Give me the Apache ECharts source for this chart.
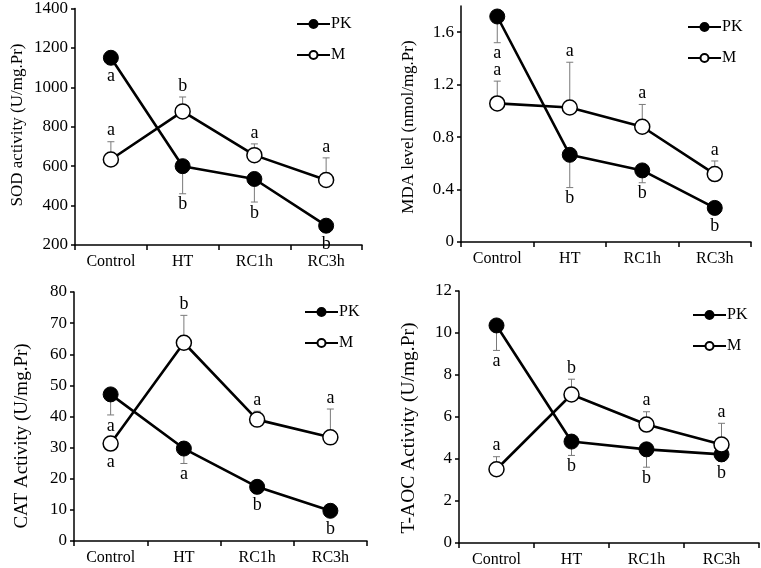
<!DOCTYPE html>
<html>
<head>
<meta charset="utf-8">
<script src="https://cdn.jsdelivr.net/npm/echarts@6/dist/echarts.min.js"></script>
<style>html,body{margin:0;padding:0;background:#fff}#c{width:761px;height:568px}</style>
</head>
<body>
<div id="c"></div>
<script>
// ---- data ----
const categories = ['Control', 'HT', 'RC1h', 'RC3h'];

const sodPK = [1150, 600, 535, 298];
const sodPKErr = [0, 140, 117, 0];
const sodM = [634, 878, 656, 530];
const sodMErr = [90, 73, 57, 112];
const sodPKLetters = ['a', 'b', 'b', 'b'];
const sodMLetters = ['a', 'b', 'a', 'a'];

const mdaPK = [1.72, 0.665, 0.546, 0.26];
const mdaPKErr = [0.2, 0.25, 0.094, 0];
const mdaM = [1.057, 1.026, 0.879, 0.518];
const mdaMErr = [0.17, 0.345, 0.17, 0.10];
const mdaPKLetters = ['a', 'b', 'b', 'b'];
const mdaMLetters = ['a', 'a', 'a', 'a'];

const catPK = [47.1, 29.7, 17.4, 9.7];
const catPKErr = [6.6, 4.8, 0, 0];
const catM = [31.3, 63.7, 39.0, 33.3];
const catMErr = [0, 8.8, 2.7, 9.1];
const catPKLetters = ['a', 'a', 'b', 'b'];
const catMLetters = ['a', 'b', 'a', 'a'];

const taocPK = [10.36, 4.83, 4.46, 4.22];
const taocPKErr = [1.19, 0.66, 0.85, 0.33];
const taocM = [3.51, 7.07, 5.64, 4.69];
const taocMErr = [0.6, 0.73, 0.61, 1.01];
const taocPKLetters = ['a', 'b', 'b', 'b'];
const taocMLetters = ['a', 'b', 'a', 'a'];

const yTicksSOD = [200, 400, 600, 800, 1000, 1200, 1400];
const yTicksMDA = [0, 0.4, 0.8, 1.2, 1.6];
const yTicksCAT = [0, 10, 20, 30, 40, 50, 60, 70, 80];
const yTicksTAOC = [0, 2, 4, 6, 8, 10, 12];

// ---- layout / style ----
const FONT = 'Liberation Serif';
const panels = [
  { grid: { left: 75, top: 6, width: 287, height: 239 }, min: 200, max: 1400, interval: 200, ticks: yTicksSOD,
    title: 'SOD activity (U/mg.Pr)', tx: 18, ty: 125, tfs: 17, legend: { left: 296, top: 16 },
    pk: sodPK, pkErr: sodPKErr, pkLet: sodPKLetters, m: sodM, mErr: sodMErr, mLet: sodMLetters,
    mSide: ['up', 'up', 'up', 'up'] },
  { grid: { left: 461, top: 6, width: 290, height: 236 }, min: 0, max: 1.8, interval: 0.4, ticks: yTicksMDA,
    title: 'MDA level (nmol/mg.Pr)', tx: 409, ty: 127, tfs: 17, legend: { left: 687, top: 19 },
    pk: mdaPK, pkErr: mdaPKErr, pkLet: mdaPKLetters, m: mdaM, mErr: mdaMErr, mLet: mdaMLetters,
    mSide: ['up', 'up', 'up', 'up'] },
  { grid: { left: 74, top: 292, width: 293, height: 249 }, min: 0, max: 80, interval: 10, ticks: yTicksCAT,
    title: 'CAT Activity (U/mg.Pr)', tx: 22, ty: 436, tfs: 19, legend: { left: 304, top: 304 },
    pk: catPK, pkErr: catPKErr, pkLet: catPKLetters, m: catM, mErr: catMErr, mLet: catMLetters,
    mSide: ['down', 'up', 'up', 'up'] },
  { grid: { left: 459, top: 291, width: 300, height: 254 }, min: 0, max: 12, interval: 2, ticks: yTicksTAOC,
    title: 'T-AOC Activity (U/mg.Pr)', tx: 409, ty: 428, tfs: 19.5, legend: { left: 692, top: 307 },
    pk: taocPK, pkErr: taocPKErr, pkLet: taocPKLetters, m: taocM, mErr: taocMErr, mLet: taocMLetters,
    mSide: ['up', 'up', 'up', 'up'] }
];

const R = 7.5;
const ERR_COLOR = '#7a7a7a';

function errRender(errArr, dir) {
  return function (params, api) {
    const e = errArr[params.dataIndex];
    if (!e) return null;
    const i = api.value(0), v = api.value(1);
    const p0 = api.coord([i, v]);
    const p1 = api.coord([i, v + dir * e]);
    return {
      type: 'group',
      children: [
        { type: 'line', shape: { x1: p0[0], y1: p0[1], x2: p1[0], y2: p1[1] }, style: { stroke: ERR_COLOR, lineWidth: 1 } },
        { type: 'line', shape: { x1: p1[0] - 3.5, y1: p1[1], x2: p1[0] + 3.5, y2: p1[1] }, style: { stroke: ERR_COLOR, lineWidth: 1 } }
      ]
    };
  };
}

function letterRender(letters, errArr, sides, errDir) {
  return function (params, api) {
    const idx = params.dataIndex;
    const i = api.value(0), v = api.value(1);
    const p = api.coord([i, v]);
    const side = sides[idx];
    const e = errArr[idx] || 0;
    let y;
    if (side === 'down') {
      let edge = p[1] + R;
      if (errDir < 0 && e) edge = Math.max(edge, api.coord([i, v - e])[1]);
      y = edge + 11;
    } else {
      let edge = p[1] - R;
      if (errDir > 0 && e) edge = Math.min(edge, api.coord([i, v + e])[1]);
      y = edge - 11;
    }
    return {
      type: 'text', x: p[0], y: y,
      style: { text: letters[idx], fontSize: 18, fontFamily: FONT, fill: '#000', align: 'center', verticalAlign: 'middle' }
    };
  };
}

const grid = [], xAxis = [], yAxis = [], series = [], legend = [], graphic = [];

panels.forEach((P, g) => {
  grid.push(P.grid);
  xAxis.push({
    type: 'category', gridIndex: g, data: categories, boundaryGap: true,
    axisLine: { lineStyle: { color: '#000', width: 1.5 } },
    axisTick: { show: true, length: 5, lineStyle: { color: '#000', width: 1.5 } },
    axisLabel: { color: '#000', fontFamily: FONT, fontSize: 16, margin: 9 },
    splitLine: { show: false }
  });
  yAxis.push({
    type: 'value', gridIndex: g, min: P.min, max: P.max, interval: P.interval,
    axisLine: { show: true, lineStyle: { color: '#000', width: 1.5 } },
    axisTick: { show: true, length: 4, customValues: P.ticks, lineStyle: { color: '#000', width: 1.5 } },
    axisLabel: {
      color: '#000', fontFamily: FONT, fontSize: 17, margin: 7, customValues: P.ticks,
      formatter: function (val) { return P.ticks.some(t => Math.abs(t - val) < 1e-9) ? String(+val.toFixed(2)) : ''; }
    },
    splitLine: { show: false }
  });

  const pkData = P.pk.map((v, i) => [i, v]);
  const mData = P.m.map((v, i) => [i, v]);
  const pkSides = P.pk.map(() => 'down');

  series.push({
    type: 'custom', name: 'errPK' + g, xAxisIndex: g, yAxisIndex: g, z: 1,
    data: pkData, encode: { x: 0, y: 1 }, renderItem: errRender(P.pkErr, -1), silent: true
  });
  series.push({
    type: 'custom', name: 'errM' + g, xAxisIndex: g, yAxisIndex: g, z: 1,
    data: mData, encode: { x: 0, y: 1 }, renderItem: errRender(P.mErr, 1), silent: true
  });
  series.push({
    type: 'line', name: 'PK', xAxisIndex: g, yAxisIndex: g, z: 3, data: P.pk,
    symbol: 'circle', symbolSize: 15, showAllSymbol: true,
    lineStyle: { color: '#000', width: 2.6 },
    itemStyle: { color: '#000', borderColor: '#000', borderWidth: 1 }
  });
  series.push({
    type: 'line', name: 'M', xAxisIndex: g, yAxisIndex: g, z: 3, data: P.m,
    symbol: 'circle', symbolSize: 15, showAllSymbol: true,
    lineStyle: { color: '#000', width: 2.6 },
    itemStyle: { color: '#fff', borderColor: '#000', borderWidth: 1.5 }
  });
  series.push({
    type: 'custom', name: 'letPK' + g, xAxisIndex: g, yAxisIndex: g, z: 4,
    data: pkData, encode: { x: 0, y: 1 }, renderItem: letterRender(P.pkLet, P.pkErr, pkSides, -1), silent: true, clip: false
  });
  series.push({
    type: 'custom', name: 'letM' + g, xAxisIndex: g, yAxisIndex: g, z: 4,
    data: mData, encode: { x: 0, y: 1 }, renderItem: letterRender(P.mLet, P.mErr, P.mSide, 1), silent: true, clip: false
  });

  legend.push({
    data: ['PK', 'M'], orient: 'vertical', left: P.legend.left, top: P.legend.top,
    padding: 0, itemGap: 15, itemWidth: 33, itemHeight: 10, selectedMode: false,
    textStyle: { color: '#000', fontFamily: FONT, fontSize: 16, padding: [0, 0, 0, -4] }
  });

  graphic.push({
    type: 'text', x: P.tx, y: P.ty, rotation: Math.PI / 2,
    style: { text: P.title, fontSize: P.tfs, fontFamily: FONT, fill: '#000', align: 'center', verticalAlign: 'middle' }
  });
});

const chart = echarts.init(document.getElementById('c'), null, { renderer: 'canvas' });
chart.setOption({
  animation: false,
  backgroundColor: '#fff',
  grid, xAxis, yAxis, series, legend, graphic
});
</script>
</body>
</html>
